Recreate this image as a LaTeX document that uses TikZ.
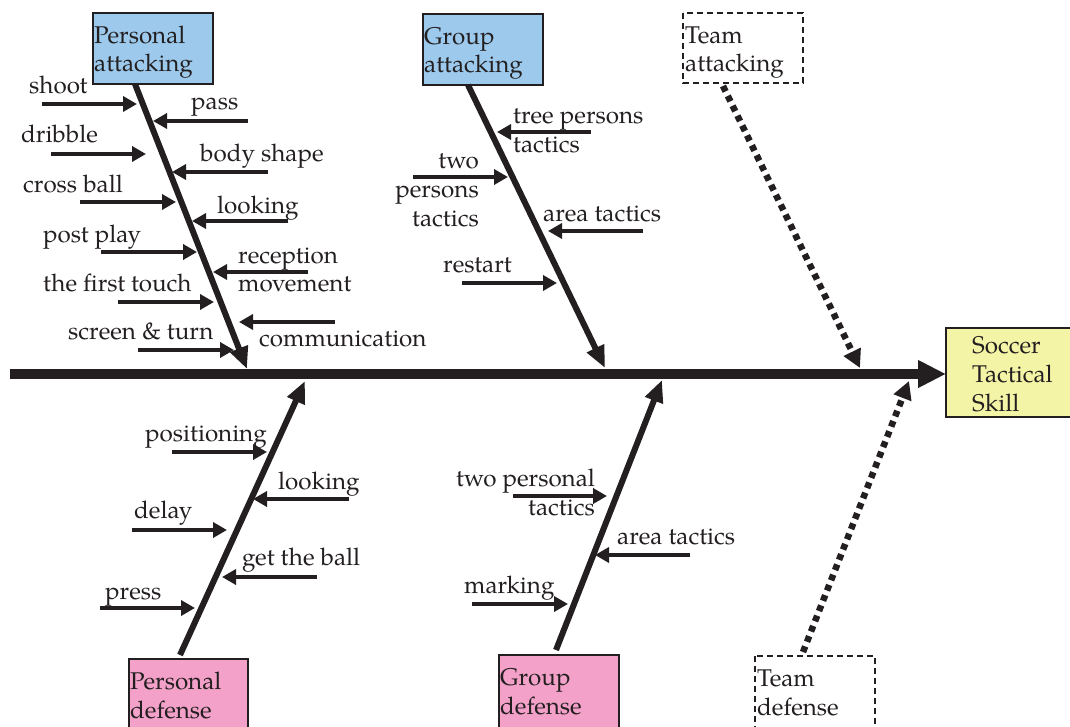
\documentclass[tikz,border=0pt]{standalone}
\usepackage{fontspec}
\setmainfont{TeX Gyre Pagella}
\usetikzlibrary{arrows.meta,calc}
\definecolor{ink}{HTML}{231F20}
\definecolor{pablue}{HTML}{9CC9EC}
\definecolor{pdpink}{HTML}{F3A1C8}
\definecolor{skyel}{HTML}{F4F4A7}
\tikzset{
  lbl/.style={inner sep=0pt, text=ink, font=\fontsize{24.2}{29}\selectfont, yshift=-1.5pt},
  catbox/.style={draw=ink, line width=1.6pt, inner sep=0pt},
  teambox/.style={draw=ink, line width=1.4pt, dash pattern=on 6pt off 4pt, inner sep=0pt},
  cause/.style={draw=ink, line width=4pt, -{Triangle[length=14pt,width=15pt]}},
  bone/.style={draw=ink, line width=6pt, -{Triangle[length=22pt,width=18pt]}},
  dotbone/.style={draw=ink, line width=6.5pt, dash pattern=on 6pt off 5pt, -{Triangle[length=18pt,width=18pt]}},
  spine/.style={draw=ink, line width=10pt, -{Triangle[length=28pt,width=26pt]}}
}
\begin{document}
\begin{tikzpicture}[x=1pt,y=-1pt]
\useasboundingbox[fill=white] (0,0) rectangle (1070,727);

% ---------- boxes ----------
\path[catbox, fill=pablue] (93,13) rectangle (213,84);
\node[coordinate] (pa) at (93,84) {};
\path[catbox, fill=pablue] (423,14) rectangle (543,85);
\node[coordinate] (ga) at (423,85) {};
\path[teambox] (683,13) rectangle (803,83);
\node[coordinate] (ta) at (683,83) {};
\path[catbox, fill=skyel, line width=2.4pt] (946,328) rectangle (1085,417);
\node[coordinate] (goal) at (946,374) {};
\path[catbox, fill=pdpink] (129,659) rectangle (248,740);
\node[coordinate] (pd) at (129,659) {};
\path[catbox, fill=pdpink] (499,655) rectangle (619,740);
\node[coordinate] (gd) at (499,655) {};
\path[teambox] (755,656) rectangle (875,740);
\node[coordinate] (td) at (755,656) {};

% box texts
\node[lbl, anchor=base west] (pa1) at (94,42) {Personal};
\node[lbl, anchor=base west] (pa2) at (94,70) {attacking};
\node[lbl, anchor=base west] (ga1) at (424,43) {Group};
\node[lbl, anchor=base west] (ga2) at (424,71) {attacking};
\node[lbl, anchor=base west] (ta1) at (685,42) {Team};
\node[lbl, anchor=base west] (ta2) at (685,70) {attacking};
\node[lbl, anchor=base west] (sk1) at (972,352) {Soccer};
\node[lbl, anchor=base west] (sk2) at (972,381) {Tactical};
\node[lbl, anchor=base west] (sk3) at (972,410) {Skill};
\node[lbl, anchor=base west] (pd1) at (130,688) {Personal};
\node[lbl, anchor=base west] (pd2) at (130,717) {defense};
\node[lbl, anchor=base west] (gd1) at (500,684) {Group};
\node[lbl, anchor=base west] (gd2) at (500,713) {defense};
\node[lbl, anchor=base west] (td1) at (757,685) {Team};
\node[lbl, anchor=base west] (td2) at (757,714) {defense};

% ---------- spine ----------
\node[coordinate] (tail) at (10,374) {};
\draw[spine] (tail) -- (goal);

% ---------- bones ----------
\coordinate (paT) at (247,369);
\coordinate (gaT) at (605,368);
\coordinate (taT) at (860,368);
\coordinate (pdT) at (305,381);
\coordinate (gdT) at (662,380);
\coordinate (tdT) at (909,381);
\draw[bone] ($(pa)+(42,0)$) -- (paT);
\draw[bone] ($(ga)+(45,0)$) -- (gaT);
\draw[dotbone] ($(ta)+(40,3)$) -- (taT);
\draw[bone] ($(pd)+(51,-4)$) -- (pdT);
\draw[bone] ($(gd)+(57,-5)$) -- (gdT);
\draw[dotbone] ($(td)+(48,-4)$) -- (tdT);

% ---------- Personal attacking causes ----------
\node[lbl, anchor=base west] (l1) at (29,92) {shoot};
\draw[cause] (42,104) -- (137,104);
\node[lbl, anchor=base west] (l2) at (21,141) {dribble};
\draw[cause] (51,154) -- (146,154);
\node[lbl, anchor=base west] (l3) at (23,191) {cross ball};
\draw[cause] (80,202) -- (176,202);
\node[lbl, anchor=base west] (l4) at (43,241) {post play};
\draw[cause] (101,252) -- (197,252);
\node[lbl, anchor=base west] (l5) at (43,290) {the first touch};
\draw[cause] (118,302) -- (214,302);
\node[lbl, anchor=base west] (l6) at (68,338) {screen \& turn};
\draw[cause] (138,350) -- (234,350);

\node[lbl, anchor=base west] (r1) at (191,108) {pass};
\draw[cause] (248,121) -- (153,121);
\node[lbl, anchor=base west] (r2) at (200,160) {body shape};
\draw[cause] (268,172) -- (172,172);
\node[lbl, anchor=base west] (r3) at (217,212) {looking};
\draw[cause] (288,221) -- (192,221);
\node[lbl, anchor=base west] (r4a) at (238,262) {reception};
\node[lbl, anchor=base west] (r4b) at (238,290) {movement};
\draw[cause] (308,272) -- (213,272);
\node[lbl, anchor=base west] (r5) at (259,345) {communication};
\draw[cause] (335,322) -- (239,322);

% ---------- Group attacking causes ----------
\node[lbl, anchor=base west] (g1a) at (513,122) {tree persons};
\node[lbl, anchor=base west] (g1b) at (513,151) {tactics};
\draw[cause] (591,132) -- (497,132);
\node[lbl, anchor=base east] (g2a) at (479,167) {two};
\node[lbl, anchor=base east] (g2b) at (479,196) {persons};
\node[lbl, anchor=base east] (g2c) at (479,225) {tactics};
\draw[cause] (413,177) -- (508,177);
\node[lbl, anchor=base west] (g3) at (543,220) {area tactics};
\draw[cause] (643,231) -- (548,231);
\node[lbl, anchor=base west] (g4) at (443,271) {restart};
\draw[cause] (462,283) -- (557,283);

% ---------- Personal defense causes ----------
\node[lbl, anchor=base west] (d1) at (145,440) {positioning};
\draw[cause] (172,452) -- (267,452);
\node[lbl, anchor=base west] (d2) at (278,488) {looking};
\draw[cause] (349,499) -- (253,499);
\node[lbl, anchor=base west] (d3) at (134,517) {delay};
\draw[cause] (132,530) -- (227,530);
\node[lbl, anchor=base west] (d4) at (242,564) {get the ball};
\draw[cause] (317,577) -- (222,577);
\node[lbl, anchor=base west] (d5) at (105,598) {press};
\draw[cause] (100,608) -- (195,608);

% ---------- Group defense causes ----------
\node[lbl, anchor=base west] (e1a) at (456,485) {two personal};
\node[lbl, anchor=base east] (e1b) at (595,514) {tactics};
\draw[cause] (513,496) -- (607,496);
\node[lbl, anchor=base west] (e2) at (617,543) {area tactics};
\draw[cause] (690,555) -- (595,555);
\node[lbl, anchor=base west] (e3) at (464,592) {marking};
\draw[cause] (472,604) -- (568,604);
\end{tikzpicture}
\end{document}
